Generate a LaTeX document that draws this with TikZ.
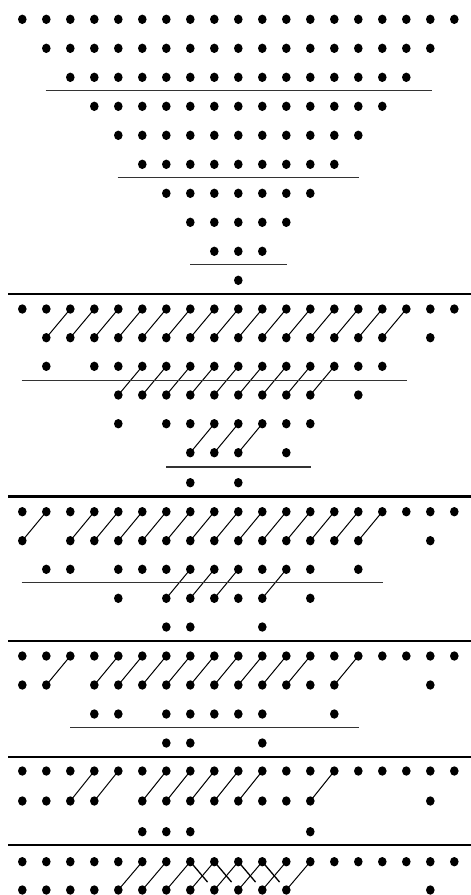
\documentclass[tikz,border=0pt]{standalone}
\usetikzlibrary{calc,shapes.geometric}
\begin{document}
\begin{tikzpicture}[x=1pt,y=-1pt,
  dot/.style={ellipse,fill=black,draw=none,inner sep=0pt,minimum width=8.6pt,minimum height=9.4pt},
  link/.style={line width=1pt,black},
  crosslink/.style={line width=1.3pt,black},
  rule/.style={line width=1.5pt,black!80},
  bigrule/.style={line width=2.8pt,black}]
\useasboundingbox (0,0) rectangle (471,895);
% ---------- section 1 : triangle ----------
\foreach \k/\y in {0/19.3,1/48.3,2/77.3,3/106.3,4/135.3,5/164.3,6/193.3,7/222.3,8/251.3,9/280.3}{
  \pgfmathtruncatemacro\e{18-\k}
  \foreach \c in {\k,...,\e} \node[dot] (s1r\k-\c) at ({22.3+24*\c},\y) {};
}
\draw[rule] (45.7,90.3) -- (431.7,90.3);
\draw[rule] (117.7,177.7) -- (359.3,177.7);
\draw[rule] (190,264.3) -- (287.3,264.3);
% ---------- thick rules ----------
\foreach \y in {294,496.5,641,757,845} \draw[bigrule] (8.3,\y) -- (471,\y);
% ---------- section 2 ----------
\foreach \c in {0,...,18} \node[dot] (s2a-\c) at ({22.3+24*\c},309) {};
\foreach \c in {1,2,3,4,5,6,7,8,9,10,11,12,13,14,15,17} \node[dot] (s2b-\c) at ({22.3+24*\c},337.7) {};
\foreach \c in {1,3,4,5,6,7,8,9,10,11,12,13,14,15} \node[dot] (s2c-\c) at ({22.3+24*\c},366.3) {};
\foreach \c in {4,5,6,7,8,9,10,11,12,14} \node[dot] (s2d-\c) at ({22.3+24*\c},395) {};
\foreach \c in {4,6,7,8,9,10,11,12} \node[dot] (s2e-\c) at ({22.3+24*\c},423.7) {};
\foreach \c in {7,8,9,11} \node[dot] (s2f-\c) at ({22.3+24*\c},452.7) {};
\foreach \c in {7,9} \node[dot] (s2g-\c) at ({22.3+24*\c},482.7) {};
\foreach \c [evaluate=\c as \d using int(\c+1)] in {1,2,3,4,5,6,7,8,9,10,11,12,13,14,15}
  \draw[link] (s2b-\c.center) -- (s2a-\d.center);
\foreach \c [evaluate=\c as \d using int(\c+1)] in {4,5,6,7,8,9,10,11,12}
  \draw[link] (s2d-\c.center) -- (s2c-\d.center);
\foreach \c [evaluate=\c as \d using int(\c+1)] in {7,8,9}
  \draw[link] (s2f-\c.center) -- (s2e-\d.center);
\draw[rule] (21.7,380.7) -- (407.3,380.7);
\draw[rule] (166,467) -- (311,467);
% ---------- section 3 ----------
\foreach \c in {0,...,18} \node[dot] (s3a-\c) at ({22.3+24*\c},511.7) {};
\foreach \c in {0,2,3,4,5,6,7,8,9,10,11,12,13,14,17} \node[dot] (s3b-\c) at ({22.3+24*\c},540.7) {};
\foreach \c in {1,2,4,5,6,7,8,9,10,11,12,14} \node[dot] (s3c-\c) at ({22.3+24*\c},569.3) {};
\foreach \c in {4,6,7,8,9,10,12} \node[dot] (s3d-\c) at ({22.3+24*\c},598.3) {};
\foreach \c in {6,7,10} \node[dot] (s3e-\c) at ({22.3+24*\c},627) {};
\foreach \c [evaluate=\c as \d using int(\c+1)] in {0,2,3,4,5,6,7,8,9,10,11,12,13,14}
  \draw[link] (s3b-\c.center) -- (s3a-\d.center);
\foreach \c [evaluate=\c as \d using int(\c+1)] in {6,7,8,10}
  \draw[link] (s3d-\c.center) -- (s3c-\d.center);
\draw[rule] (21.7,582.7) -- (383.3,582.7);
% ---------- section 4 ----------
\foreach \c in {0,...,18} \node[dot] (s4a-\c) at ({22.3+24*\c},656) {};
\foreach \c in {0,1,3,4,5,6,7,8,9,10,11,12,13,17} \node[dot] (s4b-\c) at ({22.3+24*\c},685) {};
\foreach \c in {3,4,6,7,8,9,10,13} \node[dot] (s4c-\c) at ({22.3+24*\c},714) {};
\foreach \c in {6,7,10} \node[dot] (s4d-\c) at ({22.3+24*\c},743) {};
\foreach \c [evaluate=\c as \d using int(\c+1)] in {1,3,4,5,6,7,8,9,10,11,13}
  \draw[link] (s4b-\c.center) -- (s4a-\d.center);
\draw[rule] (70,727.7) -- (359.3,727.7);
% ---------- section 5 ----------
\foreach \c in {0,...,18} \node[dot] (s5a-\c) at ({22.3+24*\c},771) {};
\foreach \c in {0,1,2,3,5,6,7,8,9,10,11,12,17} \node[dot] (s5b-\c) at ({22.3+24*\c},801) {};
\foreach \c in {5,6,7,12} \node[dot] (s5c-\c) at ({22.3+24*\c},831.7) {};
\foreach \c [evaluate=\c as \d using int(\c+1)] in {2,3,5,6,7,8,9,12}
  \draw[link] (s5b-\c.center) -- (s5a-\d.center);
% ---------- section 6 ----------
\foreach \c in {0,...,18} \node[dot] (s6a-\c) at ({22.3+24*\c},861.7) {};
\foreach \c in {0,1,2,3,4,5,6,7,8,9,10,11,17} \node[dot] (s6b-\c) at ({22.3+24*\c},890) {};
\foreach \c [evaluate=\c as \d using int(\c+1)] in {4,5,6,7,8,9,10,11}
  \draw[link] (s6b-\c.center) -- (s6a-\d.center);
\foreach \c [evaluate=\c as \d using int(\c+1)] in {7,8,9,10}
  \draw[crosslink] (s6a-\c.center) -- ($(s6a-\c.center)!0.72!(s6b-\d.center)$);
\end{tikzpicture}
\end{document}
